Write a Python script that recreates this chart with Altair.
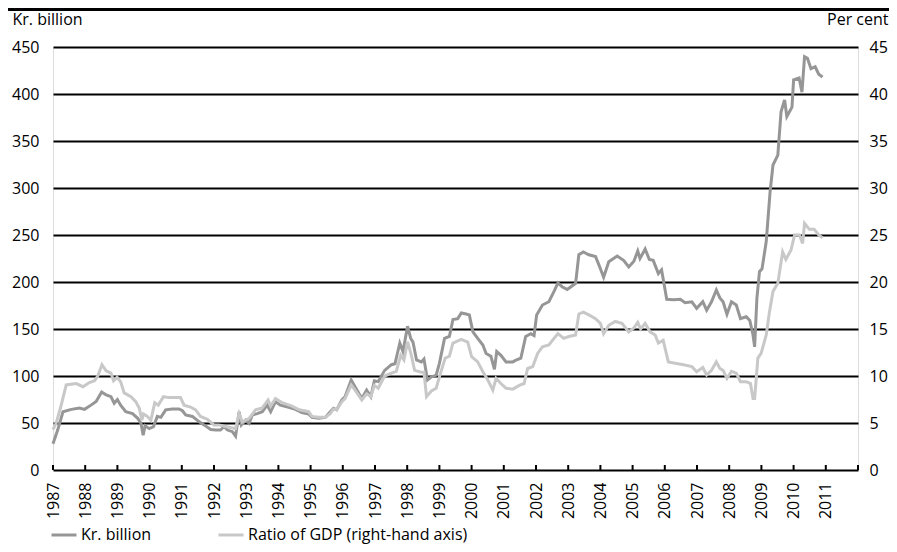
import altair as alt
import pandas as pd

# Kr. billion (left axis) - decimal year / value
kr_t = [1987.00, 1987.15, 1987.31, 1987.57, 1987.82, 1987.98, 1988.18, 1988.34, 1988.51, 1988.65,
        1988.80, 1988.90, 1989.00, 1989.10, 1989.26, 1989.47, 1989.63, 1989.73, 1989.80, 1989.86,
        1989.99, 1990.12, 1990.24, 1990.35, 1990.50, 1990.70, 1990.91, 1991.02, 1991.12, 1991.33,
        1991.53, 1991.69, 1991.90, 1992.06, 1992.20, 1992.31, 1992.42, 1992.57, 1992.67, 1992.78,
        1992.85, 1992.98, 1993.09, 1993.19, 1993.34, 1993.50, 1993.65, 1993.76, 1993.91, 1994.06,
        1994.32, 1994.53, 1994.73, 1994.94, 1995.04, 1995.25, 1995.46, 1995.61, 1995.71, 1995.81,
        1995.97, 1996.07, 1996.26, 1996.38, 1996.59, 1996.74, 1996.87, 1996.98, 1997.10, 1997.30,
        1997.51, 1997.62, 1997.77, 1997.87, 1998.01, 1998.11, 1998.18, 1998.29, 1998.44, 1998.52,
        1998.63, 1998.75, 1998.90, 1999.00, 1999.16, 1999.31, 1999.42, 1999.57, 1999.68, 1999.83,
        1999.93, 2000.04, 2000.19, 2000.35, 2000.45, 2000.60, 2000.71, 2000.78, 2000.91, 2001.07,
        2001.28, 2001.38, 2001.53, 2001.68, 2001.84, 2001.94, 2002.02, 2002.20, 2002.40, 2002.56,
        2002.68, 2002.81, 2002.97, 2003.23, 2003.33, 2003.47, 2003.64, 2003.85, 2003.98, 2004.10,
        2004.26, 2004.52, 2004.72, 2004.88, 2005.04, 2005.16, 2005.23, 2005.39, 2005.52, 2005.64,
        2005.80, 2005.90, 2006.06, 2006.27, 2006.48, 2006.63, 2006.84, 2006.99, 2007.18, 2007.30,
        2007.45, 2007.60, 2007.71, 2007.81, 2007.93, 2008.07, 2008.22, 2008.35, 2008.53, 2008.64,
        2008.74, 2008.79, 2008.86, 2008.94, 2009.02, 2009.15, 2009.27, 2009.36, 2009.51, 2009.61,
        2009.72, 2009.79, 2009.95, 2010.00, 2010.17, 2010.26, 2010.34, 2010.43, 2010.54, 2010.67,
        2010.78, 2010.90]
kr_v = [28, 43, 62, 64.5, 66, 64.5, 69, 73, 83, 80,
        78, 71, 75, 69, 62, 60, 55, 50, 37, 47,
        44, 46, 57, 56, 64, 65, 65, 63, 58.5, 57,
        51.5, 48, 43, 42.5, 42.5, 46, 42.5, 40.8, 36, 62,
        48, 53, 49.6, 58.5, 60, 62, 69, 62, 72.7, 69,
        66.7, 64.5, 61, 59.6, 56, 55, 56, 62, 65.6, 64,
        74.5, 78, 95.7, 88.6, 76, 85, 78, 95, 94, 106,
        112, 113, 135, 126, 153, 140, 136, 117, 115, 118,
        95.7, 99, 101, 113.5, 140, 142, 160, 161, 167, 166,
        165, 147, 140, 133, 124, 121, 107, 126, 122, 115,
        115, 117, 119, 142, 145, 143, 165, 175.5, 179, 190,
        199, 195, 192, 198.6, 229, 232, 229, 227, 216, 205,
        221.6, 227.7, 223, 216, 222, 233, 225, 235, 224, 223,
        209, 213, 181.6, 181, 181.6, 178, 179, 172, 179, 170,
        179, 191.5, 183, 179, 165.6, 179, 175.5, 161, 163, 159,
        143.6, 131, 182.6, 211, 214, 243, 296, 324.5, 335, 381,
        393.6, 376, 386, 415, 417, 402, 439.7, 438, 427, 429,
        421, 418]

# Ratio of GDP, per cent (right axis)
gdp_t = [1987.00, 1987.10, 1987.24, 1987.41, 1987.72, 1987.93, 1988.13, 1988.29, 1988.39, 1988.52,
         1988.65, 1988.80, 1988.88, 1988.99, 1989.10, 1989.21, 1989.42, 1989.57, 1989.68, 1989.76,
         1989.81, 1989.93, 1990.04, 1990.16, 1990.27, 1990.43, 1990.60, 1990.96, 1991.07, 1991.27,
         1991.43, 1991.58, 1991.79, 1992.00, 1992.15, 1992.40, 1992.67, 1992.78, 1992.88, 1993.09,
         1993.29, 1993.50, 1993.68, 1993.76, 1993.91, 1994.12, 1994.42, 1994.65, 1994.94, 1995.04,
         1995.25, 1995.46, 1995.61, 1995.71, 1995.81, 1995.97, 1996.07, 1996.26, 1996.38, 1996.59,
         1996.74, 1996.87, 1996.98, 1997.10, 1997.30, 1997.51, 1997.66, 1997.80, 1997.90, 1998.01,
         1998.13, 1998.23, 1998.44, 1998.52, 1998.60, 1998.75, 1998.90, 1999.00, 1999.18, 1999.31,
         1999.42, 1999.68, 1999.88, 2000.00, 2000.19, 2000.35, 2000.50, 2000.66, 2000.76, 2000.91,
         2001.07, 2001.28, 2001.48, 2001.63, 2001.74, 2001.90, 2002.05, 2002.20, 2002.40, 2002.56,
         2002.68, 2002.86, 2003.02, 2003.23, 2003.33, 2003.47, 2003.64, 2003.85, 2004.00, 2004.10,
         2004.26, 2004.46, 2004.67, 2004.88, 2005.04, 2005.16, 2005.25, 2005.39, 2005.54, 2005.70,
         2005.80, 2005.95, 2006.11, 2006.32, 2006.58, 2006.84, 2006.99, 2007.18, 2007.30, 2007.45,
         2007.60, 2007.71, 2007.81, 2007.93, 2008.07, 2008.22, 2008.35, 2008.53, 2008.66, 2008.74,
         2008.79, 2008.89, 2008.99, 2009.15, 2009.25, 2009.36, 2009.51, 2009.66, 2009.76, 2009.92,
         2010.03, 2010.18, 2010.28, 2010.34, 2010.49, 2010.64, 2010.78, 2010.90]
gdp_v = [4.3, 5.0, 6.7, 9.05, 9.2, 8.86, 9.3, 9.5, 10.0, 11.2,
         10.56, 10.3, 9.5, 9.86, 9.4, 8.2, 7.8, 7.27, 6.56, 5.3,
         5.96, 5.7, 5.3, 7.16, 6.9, 7.8, 7.7, 7.7, 6.9, 6.7,
         6.4, 5.7, 5.4, 4.8, 4.8, 4.6, 4.4, 6.0, 5.1, 5.5,
         6.4, 6.6, 7.45, 6.8, 7.6, 7.16, 6.8, 6.4, 6.2, 5.7,
         5.6, 5.6, 6.0, 6.5, 6.4, 7.27, 7.6, 9.05, 8.5, 7.45,
         8.1, 7.8, 9.0, 8.7, 10.0, 10.3, 10.5, 12.2, 11.7, 13.65,
         12.2, 10.6, 10.4, 10.4, 7.8, 8.4, 8.7, 9.9, 11.9, 12.1,
         13.5, 13.9, 13.6, 12.05, 11.5, 10.46, 9.6, 8.5, 9.75, 9.2,
         8.7, 8.6, 9.0, 9.2, 10.8, 11.0, 12.4, 13.1, 13.3, 14.0,
         14.5, 14.0, 14.2, 14.36, 16.6, 16.8, 16.5, 16.1, 15.6, 14.5,
         15.4, 15.8, 15.6, 14.7, 15.1, 15.7, 15.0, 15.6, 14.7, 14.36,
         13.5, 13.8, 11.5, 11.35, 11.2, 11.0, 10.46, 10.9, 10.1, 10.6,
         11.5, 10.8, 10.6, 9.75, 10.5, 10.3, 9.4, 9.4, 9.2, 7.6,
         7.6, 11.9, 12.4, 14.36, 16.8, 19.0, 19.86, 23.2, 22.4, 23.4,
         25.0, 25.0, 24.1, 26.24, 25.6, 25.6, 25.0, 24.7]

tick_years = list(range(1987, 2013))
label_years = list(range(1987, 2012))
left_ticks = list(range(0, 451, 50))
right_ticks = list(range(0, 46, 5))

s1 = "Kr. billion"
s2 = "Ratio of GDP (right-hand axis)"

df1 = pd.DataFrame({"t": kr_t, "v": kr_v, "series": s1})
df2 = pd.DataFrame({"t": gdp_t, "v": gdp_v, "series": s2})
df_ticks = pd.DataFrame({"year": tick_years})

W, H = 805, 423
FONT = "Open Sans"

xscale = alt.Scale(domain=[1987, 2012], nice=False, zero=False)
xaxis = alt.Axis(values=label_years, format="d", labelAngle=-90, grid=False, ticks=False,
                 tickSize=0, domain=False, labelPadding=12, title=None, labelFontSize=16,
                 labelColor="black", labelFont=FONT)

color = alt.Color(
    "series:N",
    scale=alt.Scale(domain=[s1, s2], range=["#969696", "#c8c8c8"]),
    legend=alt.Legend(orient="none", legendX=-3, legendY=474, direction="horizontal",
                      title=None, symbolType="stroke", symbolSize=625, symbolStrokeWidth=3,
                      labelFontSize=16, labelFont=FONT, labelColor="black", columnPadding=60,
                      labelOffset=3, padding=0, labelLimit=0),
)

dark = alt.Chart(df1).mark_line(strokeWidth=3).encode(
    x=alt.X("t:Q", scale=xscale, axis=xaxis),
    y=alt.Y("v:Q", scale=alt.Scale(domain=[0, 450], nice=False),
            axis=alt.Axis(values=left_ticks, orient="left", grid=True, gridColor="black",
                          gridWidth=2, gridOpacity=1, ticks=False, tickSize=0, domain=False,
                          labelPadding=14, labelFontSize=16, labelFont=FONT, labelColor="black",
                          title="Kr. billion", titleAngle=0, titleX=-41, titleY=-23,
                          titleAlign="left", titleBaseline="alphabetic", titleFontSize=16,
                          titleFontWeight="normal", titleFont=FONT, titleColor="black")),
    color=color,
)

light = alt.Chart(df2).mark_line(strokeWidth=3).encode(
    x=alt.X("t:Q", scale=xscale, axis=xaxis),
    y=alt.Y("v:Q", scale=alt.Scale(domain=[0, 45], nice=False),
            axis=alt.Axis(values=right_ticks, orient="right", grid=False, ticks=False,
                          tickSize=0, domain=False, labelPadding=11, labelFontSize=16,
                          labelFont=FONT, labelColor="black",
                          title="Per cent", titleAngle=0, titleX=30, titleY=-23,
                          titleAlign="right", titleBaseline="alphabetic", titleFontSize=16,
                          titleFontWeight="normal", titleFont=FONT, titleColor="black")),
    color=color,
)

ticks = alt.Chart(df_ticks).mark_rule(color="black", strokeWidth=2).encode(
    x=alt.X("year:Q", scale=xscale, axis=xaxis),
    y=alt.value(H),
    y2=alt.value(H - 5),
)

toprule = alt.Chart(df_ticks).mark_rule(color="black", strokeWidth=3).encode(
    x=alt.value(-45), x2=alt.value(W + 31), y=alt.value(-37.5)
)

chart = alt.layer(dark, light, ticks, toprule).resolve_scale(y="independent").properties(
    width=W, height=H,
    autosize=alt.AutoSizeParams(type="none"),
    padding={"left": 45, "top": 39, "right": 31, "bottom": 74},
).configure_view(stroke=None).configure(font=FONT)

chart.save("out.html", embed_options={"renderer": "svg", "actions": False})
